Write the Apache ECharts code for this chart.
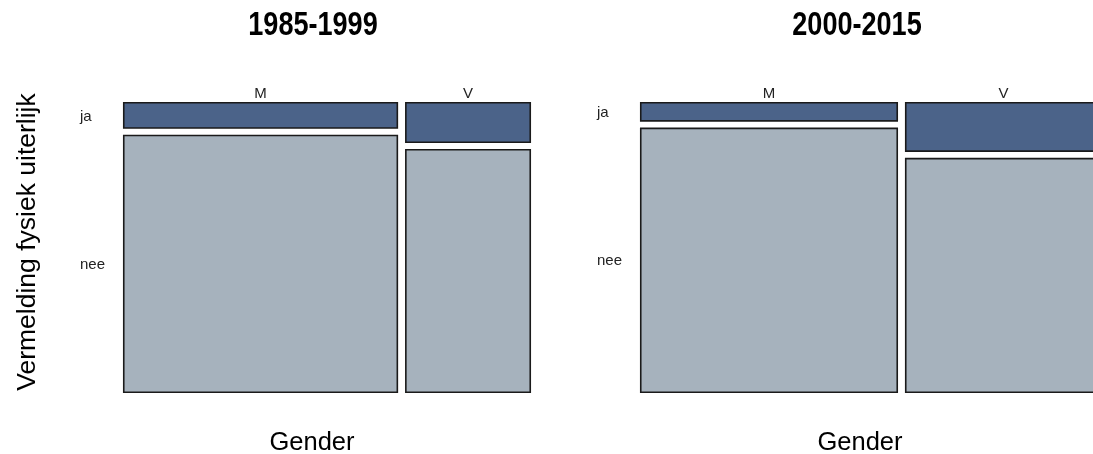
<!DOCTYPE html>
<html>
<head>
<meta charset="utf-8">
<script src="https://cdn.jsdelivr.net/npm/echarts@6/dist/echarts.min.js"></script>
<style>html,body{margin:0;padding:0;background:#fff}#c{width:1093px;height:454px}</style>
</head>
<body>
<div id="c"></div>
<script>
// ---- data ----
const periods = ['1985-1999', '2000-2015'];
const genders = ['M', 'V'];
const answers = ['ja', 'nee'];
// share of each gender within a period (column widths)
const genderShare1 = [0.686, 0.314];
const genderShare2 = [0.567, 0.433];
// share of "ja" within each gender (row heights)
const jaShare1 = [0.094, 0.144];
const jaShare2 = [0.069, 0.175];
const xTitle = 'Gender';
const yTitle = 'Vermelding fysiek uiterlijk';

const genderShares = [genderShare1, genderShare2];
const jaShares = [jaShare1, jaShare2];
const colors = { ja: '#4B6389', nee: '#A6B2BD' };
const GAPX = 7, GAPY = 6;
const FONT = 'Liberation Sans, Arial, sans-serif';

function buildData(p) {
  const out = [];
  let xc = 0;
  genderShares[p].forEach((gs, gi) => {
    let yc = 0;
    answers.forEach((a, ai) => {
      const h = ai === 0 ? jaShares[p][gi] : 1 - jaShares[p][gi];
      out.push([xc, gs, yc, h, gi, ai]);
      yc += h;
    });
    xc += gs;
  });
  return out;
}

function renderItem(params, api) {
  const x0 = api.value(0), w = api.value(1), y0 = api.value(2), h = api.value(3);
  const gi = api.value(4), ai = api.value(5);
  const pA = api.coord([0, 0]);
  const pB = api.coord([1, 1]);
  const W = pB[0] - pA[0];
  const H = pB[1] - pA[1];
  const left = pA[0] + x0 * (W - GAPX) + gi * GAPX;
  const top = pA[1] + y0 * (H - GAPY) + ai * GAPY;
  const rw = w * (W - GAPX);
  const rh = h * (H - GAPY);
  const children = [{
    type: 'rect',
    shape: { x: left + 0.75, y: top + 0.75, width: rw - 1.5, height: rh - 1.5 },
    style: { fill: colors[answers[ai]], stroke: '#1a1a1a', lineWidth: 1.6 }
  }];
  if (ai === 0) {
    children.push({
      type: 'text',
      style: { text: genders[gi], x: left + rw / 2, y: top - 8, align: 'center', verticalAlign: 'middle',
        fontSize: 15, fontFamily: FONT, fill: '#222' }
    });
  }
  if (gi === 0) {
    children.push({
      type: 'text',
      style: { text: answers[ai], x: pA[0] - 43, y: top + rh / 2 + 1, align: 'left', verticalAlign: 'middle',
        fontSize: 15, fontFamily: FONT, fill: '#222' }
    });
  }
  return { type: 'group', children };
}

const chart = echarts.init(document.getElementById('c'), null, { renderer: 'canvas' });
const grids = [
  { left: 123, top: 102, width: 408, bottom: 61, outerBoundsMode: 'none', containLabel: false },
  { left: 640, top: 102, width: 462, bottom: 61, outerBoundsMode: 'none', containLabel: false }
];
const TITLE_FONT = { fontSize: 33, fontWeight: 'bold', fontFamily: FONT, fill: '#000', align: 'center', verticalAlign: 'middle' };
const option = {
  animation: false,
  backgroundColor: '#fff',
  grid: grids,
  xAxis: grids.map((g, i) => ({ type: 'value', gridIndex: i, min: 0, max: 1, show: false })),
  yAxis: grids.map((g, i) => ({ type: 'value', gridIndex: i, min: 0, max: 1, inverse: true, show: false })),
  series: periods.map((p, i) => ({
    type: 'custom', xAxisIndex: i, yAxisIndex: i, renderItem, clip: false,
    data: buildData(i)
  })),
  graphic: [
    { type: 'text', x: 313, y: 26, scaleX: 0.82, style: Object.assign({ text: periods[0] }, TITLE_FONT) },
    { type: 'text', x: 857, y: 26, scaleX: 0.82, style: Object.assign({ text: periods[1] }, TITLE_FONT) },
    { type: 'text', x: 312, y: 443, style: { text: xTitle, align: 'center', verticalAlign: 'middle',
      fontSize: 25.5, fontFamily: FONT, fill: '#000' } },
    { type: 'text', x: 860, y: 443, style: { text: xTitle, align: 'center', verticalAlign: 'middle',
      fontSize: 25.5, fontFamily: FONT, fill: '#000' } },
    { type: 'text', x: 28, y: 242, rotation: Math.PI / 2, style: { text: yTitle, align: 'center', verticalAlign: 'middle',
      fontSize: 26.5, fontFamily: FONT, fill: '#000' } }
  ]
};
chart.setOption(option);
</script>
</body>
</html>
